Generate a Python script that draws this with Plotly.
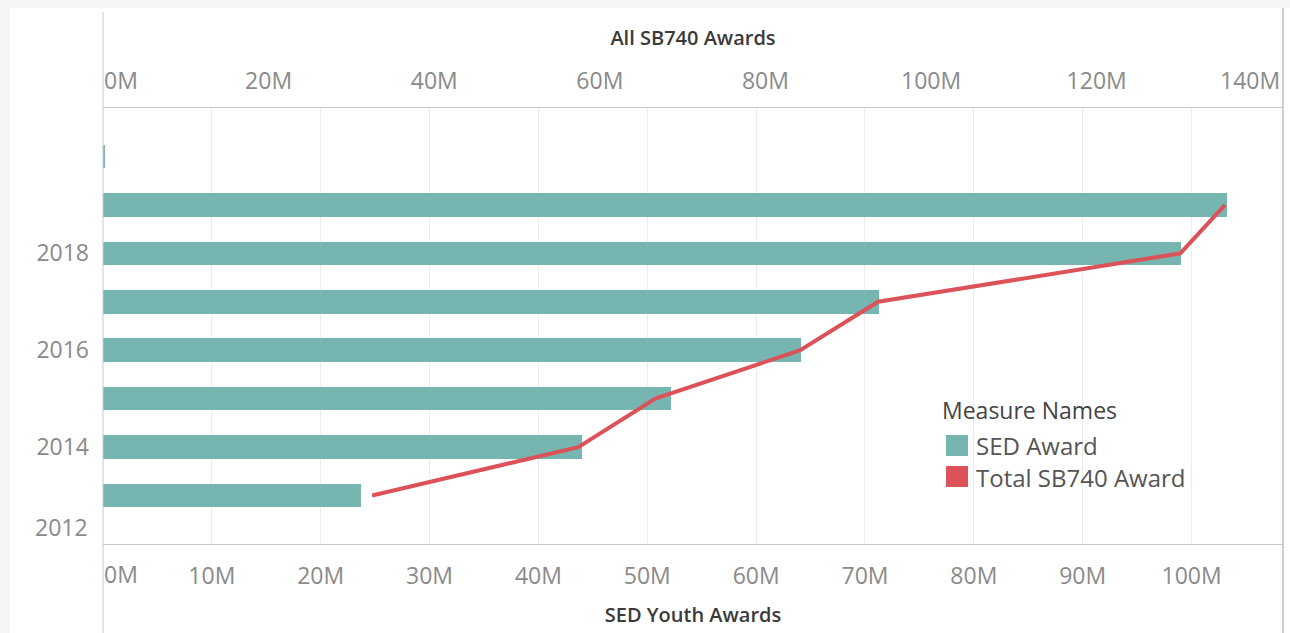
import plotly.graph_objects as go

# ---- data (values in millions) ----
years = [2013, 2014, 2015, 2016, 2017, 2018, 2019, 2020]
sed_award = [23.7, 44.0, 52.2, 64.1, 71.3, 99.0, 103.3, 0.2]
line_years = [2013, 2014, 2015, 2016, 2017, 2018, 2019]
total_sb740 = [32.5, 57.4, 66.7, 84.2, 93.6, 130.1, 135.5]

bottom_ticks = [10, 20, 30, 40, 50, 60, 70, 80, 90, 100]
top_ticks = [20, 40, 60, 80, 100, 120]
year_ticks = [2014, 2016, 2018]

TEAL = "#76b5b0"
RED = "#dc5259"
FONT = "Open Sans"
TICK_COLOR = "#8a8a8a"
TITLE_COLOR = "#3a3a3a"

fig = go.Figure()
fig.add_trace(go.Bar(
    y=years, x=sed_award, orientation="h", width=0.485,
    marker=dict(color=TEAL, line=dict(width=0)),
    name="SED Award", showlegend=False, xaxis="x", yaxis="y",
))
fig.add_trace(go.Scatter(
    y=line_years, x=total_sb740, mode="lines",
    line=dict(color=RED, width=4),
    name="Total SB740 Award", showlegend=False, xaxis="x2", yaxis="y",
))

W, H = 1290, 633
L, R, T, B = 103, 7, 108, 89
pw, ph = W - L - R, H - T - B


def px_x(px):
    return (px - L) / pw


def px_y(py):
    return (H - B - py) / ph


fig.update_layout(
    width=W, height=H,
    margin=dict(l=L, r=R, t=T, b=B),
    paper_bgcolor="white", plot_bgcolor="white",
    font=dict(family=FONT, color=TICK_COLOR),
    bargap=0,
    xaxis=dict(
        range=[0, 108.4], tickvals=bottom_ticks,
        ticktext=[f"{v}M" for v in bottom_ticks],
        showgrid=True, gridcolor="#ececec", gridwidth=1,
        zeroline=False, showline=True, linecolor="#c9c9c9", linewidth=1,
        ticks="", ticklabelstandoff=11,
        tickfont=dict(family=FONT, size=23, color=TICK_COLOR),
        title=dict(text="SED Youth Awards", standoff=18,
                   font=dict(family=FONT, size=20, color=TITLE_COLOR, weight=600)),
    ),
    xaxis2=dict(
        range=[0, 142.5], tickvals=top_ticks,
        ticktext=[f"{v}M" for v in top_ticks],
        overlaying="x", side="top", anchor="y",
        showgrid=False, zeroline=False, showline=True, linecolor="#c9c9c9", linewidth=1,
        ticks="", ticklabelstandoff=9,
        tickfont=dict(family=FONT, size=23, color=TICK_COLOR),
        title=dict(text="All SB740 Awards", standoff=12,
                   font=dict(family=FONT, size=20, color=TITLE_COLOR, weight=600)),
    ),
    yaxis=dict(
        range=[2012, 2021], tickvals=year_ticks,
        showgrid=False, zeroline=False, showline=False,
        ticks="", ticklabelstandoff=13,
        tickfont=dict(family=FONT, size=23, color=TICK_COLOR),
    ),
)

shapes = []
# light outer band (top and left)
shapes.append(dict(type="rect", xref="paper", yref="paper",
                   x0=px_x(0), x1=px_x(W), y0=px_y(8), y1=px_y(0),
                   fillcolor="#f5f5f5", line=dict(width=0), layer="below"))
shapes.append(dict(type="rect", xref="paper", yref="paper",
                   x0=px_x(0), x1=px_x(10), y0=px_y(H), y1=px_y(0),
                   fillcolor="#f5f5f5", line=dict(width=0), layer="below"))
# left axis line spanning full height
shapes.append(dict(type="line", xref="paper", yref="paper",
                   x0=0, x1=0, y0=px_y(H), y1=px_y(12),
                   line=dict(color="#c9c9c9", width=1)))
# right border
shapes.append(dict(type="line", xref="paper", yref="paper",
                   x0=1, x1=1, y0=px_y(H), y1=px_y(8),
                   line=dict(color="#cfcfcf", width=2)))
# legend swatches
shapes.append(dict(type="rect", xref="paper", yref="paper",
                   x0=px_x(946), x1=px_x(968), y0=px_y(456), y1=px_y(435),
                   fillcolor=TEAL, line=dict(width=0)))
shapes.append(dict(type="rect", xref="paper", yref="paper",
                   x0=px_x(946), x1=px_x(968), y0=px_y(487), y1=px_y(466),
                   fillcolor=RED, line=dict(width=0)))
fig.update_layout(shapes=shapes)

annotations = [
    dict(text="Measure Names", xref="paper", yref="paper", x=px_x(940), y=px_y(410),
         xanchor="left", yanchor="middle", showarrow=False,
         font=dict(family=FONT, size=23, color="#444444")),
    dict(text="SED Award", xref="paper", yref="paper", x=px_x(974), y=px_y(445),
         xanchor="left", yanchor="middle", showarrow=False,
         font=dict(family=FONT, size=24, color="#555555")),
    dict(text="Total SB740 Award", xref="paper", yref="paper", x=px_x(974), y=px_y(477),
         xanchor="left", yanchor="middle", showarrow=False,
         font=dict(family=FONT, size=24, color="#555555")),
    # edge tick labels shifted inward like the original
    dict(text="0M", xref="paper", yref="paper", x=px_x(102), y=px_y(574),
         xanchor="left", yanchor="middle", showarrow=False,
         font=dict(family=FONT, size=23, color=TICK_COLOR)),
    dict(text="0M", xref="paper", yref="paper", x=px_x(102), y=px_y(80),
         xanchor="left", yanchor="middle", showarrow=False,
         font=dict(family=FONT, size=23, color=TICK_COLOR)),
    dict(text="140M", xref="paper", yref="paper", x=px_x(1282), y=px_y(80),
         xanchor="right", yanchor="middle", showarrow=False,
         font=dict(family=FONT, size=23, color=TICK_COLOR)),
    dict(text="2012", xref="paper", yref="y", x=0, y=2012, yshift=17, xshift=-13,
         xanchor="right", yanchor="middle", showarrow=False,
         font=dict(family=FONT, size=23, color=TICK_COLOR)),
]
fig.update_layout(annotations=annotations)

fig.write_html("out.html", config={"displayModeBar": False},
               post_script="document.body.style.margin='0';")
